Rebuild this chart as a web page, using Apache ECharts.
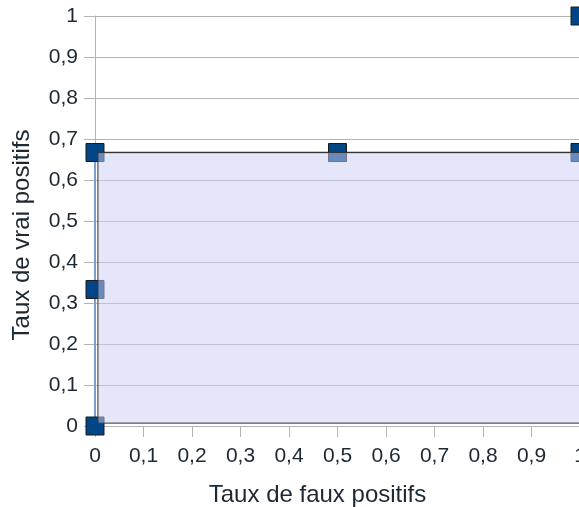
<!DOCTYPE html>
<html>
<head>
<meta charset="utf-8">
<script src="https://cdn.jsdelivr.net/npm/echarts@6/dist/echarts.min.js"></script>
<style>html,body{margin:0;padding:0;background:#fff;}#c{width:579px;height:507px;}</style>
</head>
<body>
<div id="c"></div>
<script>
// ROC points
var fpr = [0, 0, 0, 0.5, 1, 1];
var tpr = [0, 0.333, 0.667, 0.667, 0.667, 1];
// shaded area (AUC) polygon
var areaX = [0.006, 0.006, 1, 1];
var areaY = [0.007, 0.667, 0.667, 0.007];
// tick labels
var tickLabels = ['0', '0,1', '0,2', '0,3', '0,4', '0,5', '0,6', '0,7', '0,8', '0,9', '1'];

var chart = echarts.init(document.getElementById('c'), null, {renderer: 'canvas'});
var font = 'Liberation Sans';
var txt = '#1c2833';
var points = fpr.map(function (x, i) { return [x, tpr[i]]; });
var polyPts = areaX.map(function (x, i) { return [x, areaY[i]]; });

function fmt(v) {
  var i = Math.round(v * 10);
  return tickLabels[i] !== undefined ? tickLabels[i] : '';
}

chart.setOption({
  animation: false,
  backgroundColor: '#fff',
  grid: {left: 95, top: 16, width: 485, height: 410, containLabel: false, outerBoundsMode: 'none'},
  xAxis: {
    type: 'value', min: 0, max: 1, interval: 0.1,
    name: 'Taux de faux positifs', nameLocation: 'middle', nameGap: 57,
    nameTextStyle: {fontFamily: font, fontSize: 24, color: txt, padding: [0, 40, 0, 0]},
    axisLine: {show: true, lineStyle: {color: '#b3b3b3', width: 1}},
    axisTick: {show: true, length: 11, lineStyle: {color: '#b3b3b3'}},
    axisLabel: {fontFamily: font, fontSize: 21, color: txt, margin: 20, formatter: fmt, hideOverlap: false},
    splitLine: {show: false}
  },
  yAxis: {
    type: 'value', min: 0, max: 1, interval: 0.1,
    name: 'Taux de vrai positifs', nameLocation: 'middle', nameGap: 61,
    nameTextStyle: {fontFamily: font, fontSize: 24, color: txt, padding: [0, 28, 0, 0]},
    axisLine: {show: true, lineStyle: {color: '#b3b3b3', width: 1}},
    axisTick: {show: true, length: 11, lineStyle: {color: '#b3b3b3'}},
    axisLabel: {fontFamily: font, fontSize: 21, color: txt, margin: 17, formatter: fmt},
    splitLine: {show: true, lineStyle: {color: '#b3b3b3', width: 1}}
  },
  series: [
    {
      type: 'line', data: points, showSymbol: false, z: 2,
      lineStyle: {color: '#7f9fca', width: 2}, clip: false
    },
    {
      type: 'scatter', data: points, symbol: 'rect', symbolSize: 18, z: 3, clip: false,
      itemStyle: {color: '#004586', borderColor: '#1a1a1a', borderWidth: 1, opacity: 1}
    },
    {
      type: 'custom', z: 4, clip: false,
      data: [0],
      renderItem: function (params, api) {
        var pts = polyPts.map(function (p) { return api.coord(p); });
        return {
          type: 'polygon',
          shape: {points: pts},
          style: {fill: 'rgba(206,206,245,0.51)', stroke: '#333333', lineWidth: 1}
        };
      }
    }
  ]
});
</script>
</body>
</html>
